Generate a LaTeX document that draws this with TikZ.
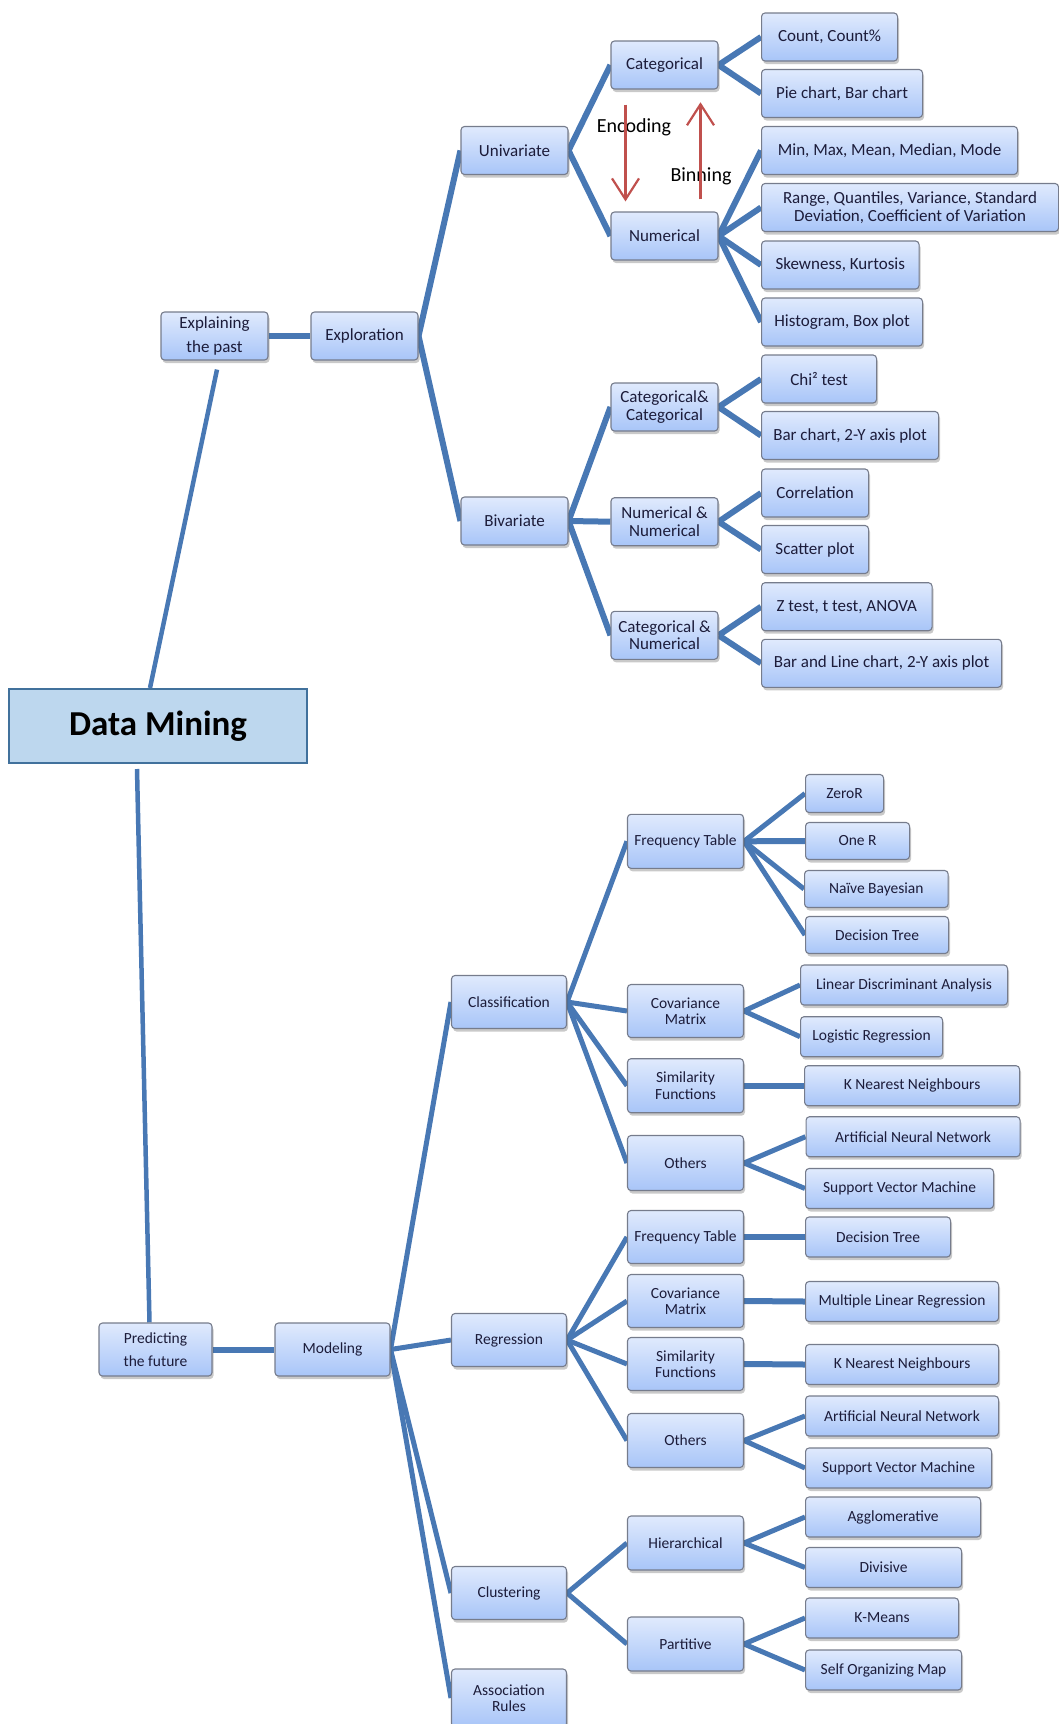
\documentclass[tikz,border=0pt]{standalone}
\usepackage{fontspec}
\setmainfont{Carlito}
\usetikzlibrary{arrows.meta,shadows}
\definecolor{linecol}{RGB}{72,120,180}
\definecolor{boxtop}{RGB}{224,234,253}
\definecolor{boxbot}{RGB}{168,197,248}
\definecolor{boxedge}{RGB}{118,124,140}
\definecolor{txtcol}{RGB}{28,28,58}
\definecolor{dmfill}{RGB}{189,215,238}
\definecolor{dmedge}{RGB}{65,113,156}
\definecolor{redarrow}{RGB}{192,80,77}
\pgfdeclarelayer{bg}
\pgfsetlayers{bg,main}
\begin{document}
\begin{tikzpicture}[x=1pt,y=-1pt,
  box/.style={rectangle, rounded corners=3.5pt, draw=boxedge, line width=1.1pt,
    top color=boxtop, bottom color=boxbot,
    drop shadow={shadow xshift=1.5pt, shadow yshift=-3pt, opacity=0.3, fill=black!70},
    inner sep=0pt, align=center, text=txtcol},
  ubox/.style={box, minimum height=48pt, font=\fontsize{17}{17.5}\selectfont},
  mid/.style={ubox, minimum width=107pt},
  uleaf/.style={ubox, anchor=west},
  lbox/.style={box, font=\fontsize{15.5}{16.3}\selectfont},
  lmid/.style={lbox, minimum width=116pt, minimum height=53pt},
  lleaf/.style={lbox, minimum height=40pt, anchor=west},
  dmbox/.style={rectangle, draw=dmedge, line width=2pt, fill=dmfill,
    minimum width=298pt, minimum height=74pt, inner sep=0pt,
    font=\fontsize{35}{36}\selectfont\bfseries},
  conn/.style={draw=linecol, line width=6pt},
  lconn/.style={draw=linecol, line width=5pt},
  dmconn/.style={draw=linecol, line width=4.5pt},
  relarrow/.style={draw=redarrow, line width=2.2pt, -{Straight Barb[length=21pt,width=27pt]}},
  arrlabel/.style={font=\fontsize{20}{20}\selectfont, text=black, inner sep=0pt}
]
\useasboundingbox (0,0) rectangle (1059,1724);

% ---------- root ----------
\node[dmbox] (dm) at (158,726) {Data Mining};

% ---------- explaining the past ----------
\node[mid, font=\fontsize{17}{24.7}\selectfont] (past) at (214.5,336) {Explaining\\the past};
\node[mid] (explor) at (364.5,336) {Exploration};
\node[mid] (univ) at (514.5,150.5) {Univariate};
\node[mid] (biv) at (514.5,521) {Bivariate};
\node[mid] (cat) at (664.5,65) {Categorical};
\node[mid] (num) at (664.5,236) {Numerical};
\node[mid] (catcat) at (664.5,407) {Categorical\&\\Categorical};
\node[mid] (numnum) at (664.5,521.7) {Numerical \&\\Numerical};
\node[mid] (catnum) at (664.5,635.3) {Categorical \&\\Numerical};

\node[uleaf, minimum width=136pt] (count) at (761,37) {Count, Count\%};
\node[uleaf, minimum width=161pt] (pie) at (761,93.5) {Pie chart, Bar chart};
\node[uleaf, minimum width=256pt] (minmax) at (761,150.5) {Min, Max, Mean, Median, Mode};
\node[uleaf, minimum width=297pt] (range) at (761,207.5) {Range, Quantiles, Variance, Standard\\Deviation, Coefficient of Variation};
\node[uleaf, minimum width=157.5pt] (skew) at (761,265) {Skewness, Kurtosis};
\node[uleaf, minimum width=161pt] (hist) at (761,322) {Histogram, Box plot};
\node[uleaf, minimum width=115pt] (chi) at (761,379) {Chi² test};
\node[uleaf, minimum width=177pt] (bartwo) at (761,435.5) {Bar chart, 2-Y axis plot};
\node[uleaf, minimum width=107pt] (corr) at (761,493) {Correlation};
\node[uleaf, minimum width=107pt] (scatter) at (761,549.5) {Scatter plot};
\node[uleaf, minimum width=170.5pt] (ztest) at (761,606.7) {Z test, t test, ANOVA};
\node[uleaf, minimum width=240pt] (barline) at (761,663.3) {Bar and Line chart, 2-Y axis plot};

% encoding / binning between the two variable types
\node[arrlabel] (enc) at (634,127) {Encoding};
\node[arrlabel] (binn) at (701,176) {Binning};
\draw[relarrow] ([xshift=-39pt,yshift=-15pt]cat.south) -- ([xshift=-39pt,yshift=10pt]num.north);
\draw[relarrow] ([xshift=36pt,yshift=12pt]num.north) -- ([xshift=36pt,yshift=-12.7pt]cat.south);

% ---------- predicting the future ----------
\node[lmid, minimum width=113pt, font=\fontsize{15.5}{23}\selectfont] (pred) at (155.5,1349.5) {Predicting\\the future};
\node[lmid, minimum width=115pt] (model) at (332.5,1349.5) {Modeling};
\node[lmid, minimum width=115pt] (classif) at (509,1002) {Classification};
\node[lmid, minimum width=115pt] (regr) at (509,1340) {Regression};
\node[lmid, minimum width=115pt] (clust) at (509,1593) {Clustering};
\node[lmid, minimum width=115pt, minimum height=58pt] (assoc) at (509,1698) {Association\\Rules};

\node[lmid, minimum height=54pt] (ftone) at (685.5,841.3) {Frequency Table};
\node[lmid] (covone) at (685.5,1011) {Covariance\\Matrix};
\node[lmid, minimum height=54pt] (simone) at (685.5,1085.7) {Similarity\\Functions};
\node[lmid, minimum height=55pt] (othone) at (685.5,1163) {Others};
\node[lmid] (fttwo) at (685.5,1237) {Frequency Table};
\node[lmid] (covtwo) at (685.5,1301) {Covariance\\Matrix};
\node[lmid] (simtwo) at (685.5,1364) {Similarity\\Functions};
\node[lmid, minimum height=54pt] (othtwo) at (685.5,1440.5) {Others};
\node[lmid, minimum height=54pt] (hier) at (685.5,1543) {Hierarchical};
\node[lmid, minimum height=54pt] (part) at (685.5,1644) {Partitive};

\node[lleaf, minimum width=78pt, minimum height=38pt] (zeror) at (805,793.5) {ZeroR};
\node[lleaf, minimum width=104pt, minimum height=37pt] (oner) at (805,841) {One R};
\node[lleaf, minimum width=143.6pt, minimum height=37pt] (naive) at (804,889) {Naïve Bayesian};
\node[lleaf, minimum width=143pt, minimum height=37pt] (dtone) at (805,935) {Decision Tree};
\node[lleaf, minimum width=207pt] (lda) at (800,985) {Linear Discriminant Analysis};
\node[lleaf, minimum width=142pt] (logreg) at (800,1036.7) {Logistic Regression};
\node[lleaf, minimum width=215pt] (knnone) at (804,1085.7) {K Nearest Neighbours};
\node[lleaf, minimum width=214pt] (annone) at (805.5,1136.7) {Artificial Neural Network};
\node[lleaf, minimum width=188pt] (svmone) at (805,1188.5) {Support Vector Machine};
\node[lleaf, minimum width=145pt] (dttwo) at (805,1237) {Decision Tree};
\node[lleaf, minimum width=193pt] (mlr) at (805,1301.5) {Multiple Linear Regression};
\node[lleaf, minimum width=193pt] (knntwo) at (805,1364.5) {K Nearest Neighbours};
\node[lleaf, minimum width=193pt] (anntwo) at (805,1416) {Artificial Neural Network};
\node[lleaf, minimum width=186pt] (svmtwo) at (805,1468) {Support Vector Machine};
\node[lleaf, minimum width=175pt] (agglo) at (805,1517) {Agglomerative};
\node[lleaf, minimum width=156pt] (divis) at (805,1567.5) {Divisive};
\node[lleaf, minimum width=153pt] (kmeans) at (805,1618) {K-Means};
\node[lleaf, minimum width=156pt] (som) at (805,1670) {Self Organizing Map};

% ---------- connectors ----------
\begin{pgfonlayer}{bg}
\draw[dmconn] ([xshift=-8pt]dm.north) -- ([xshift=2.5pt,yshift=-9pt]past.south);
\draw[dmconn] ([xshift=-21pt,yshift=-5pt]dm.south) -- ([xshift=-6pt]pred.north);

\draw[conn] (past.east) -- (explor.west);
\draw[conn] (explor.east) -- (univ.west);
\draw[conn] (explor.east) -- (biv.west);
\draw[conn] (univ.east) -- (cat.west);
\draw[conn] (univ.east) -- (num.west);
\draw[conn] (cat.east) -- (count.west);
\draw[conn] (cat.east) -- (pie.west);
\draw[conn] (num.east) -- (minmax.west);
\draw[conn] (num.east) -- (range.west);
\draw[conn] (num.east) -- (skew.west);
\draw[conn] (num.east) -- (hist.west);
\draw[conn] (biv.east) -- (catcat.west);
\draw[conn] (biv.east) -- (numnum.west);
\draw[conn] (biv.east) -- (catnum.west);
\draw[conn] (catcat.east) -- (chi.west);
\draw[conn] (catcat.east) -- (bartwo.west);
\draw[conn] (numnum.east) -- (corr.west);
\draw[conn] (numnum.east) -- (scatter.west);
\draw[conn] (catnum.east) -- (ztest.west);
\draw[conn] (catnum.east) -- (barline.west);

\draw[lconn, line width=6pt] (pred.east) -- (model.west);
\draw[lconn] (model.east) -- (classif.west);
\draw[lconn] (model.east) -- (regr.west);
\draw[lconn] (model.east) -- (clust.west);
\draw[lconn] (model.east) -- (assoc.west);
\draw[lconn] (classif.east) -- (ftone.west);
\draw[lconn] (classif.east) -- (covone.west);
\draw[lconn] (classif.east) -- (simone.west);
\draw[lconn] (classif.east) -- (othone.west);
\draw[lconn] (ftone.east) -- (zeror.west);
\draw[lconn, line width=6pt] (ftone.east) -- (oner.west);
\draw[lconn] (ftone.east) -- (naive.west);
\draw[lconn] (ftone.east) -- (dtone.west);
\draw[lconn] (covone.east) -- (lda.west);
\draw[lconn] (covone.east) -- (logreg.west);
\draw[lconn, line width=6pt] (simone.east) -- (knnone.west);
\draw[lconn] (othone.east) -- (annone.west);
\draw[lconn] (othone.east) -- (svmone.west);
\draw[lconn] (regr.east) -- (fttwo.west);
\draw[lconn] (regr.east) -- (covtwo.west);
\draw[lconn] (regr.east) -- (simtwo.west);
\draw[lconn] (regr.east) -- (othtwo.west);
\draw[lconn, line width=6pt] (fttwo.east) -- (dttwo.west);
\draw[lconn, line width=6pt] (covtwo.east) -- (mlr.west);
\draw[lconn, line width=6pt] (simtwo.east) -- (knntwo.west);
\draw[lconn] (othtwo.east) -- (anntwo.west);
\draw[lconn] (othtwo.east) -- (svmtwo.west);
\draw[lconn] (clust.east) -- (hier.west);
\draw[lconn] (clust.east) -- (part.west);
\draw[lconn] (hier.east) -- (agglo.west);
\draw[lconn] (hier.east) -- (divis.west);
\draw[lconn] (part.east) -- (kmeans.west);
\draw[lconn] (part.east) -- (som.west);
\end{pgfonlayer}
\end{tikzpicture}
\end{document}
